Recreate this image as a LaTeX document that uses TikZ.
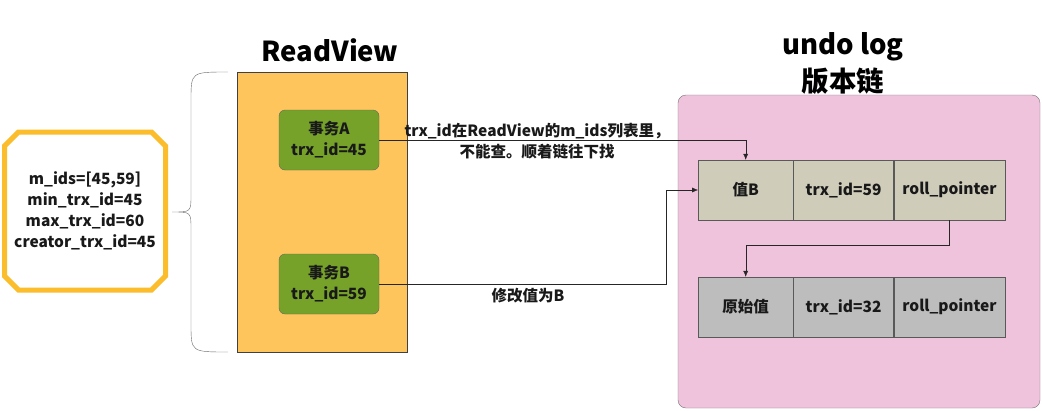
\documentclass[tikz,border=0pt]{standalone}
\usepackage{fontspec}
\setmainfont{Noto Sans CJK SC}
\usetikzlibrary{positioning,shapes.misc,arrows.meta}
\definecolor{viewfill}{HTML}{FEC55C}
\definecolor{txgreen}{HTML}{76A22A}
\definecolor{undofill}{HTML}{F0C3DD}
\definecolor{newrow}{HTML}{CFCCBA}
\definecolor{oldrow}{HTML}{BDBDBD}
\definecolor{octline}{HTML}{FBBD2B}

\begin{document}
\begin{tikzpicture}[x=1pt,y=-1pt,>={Latex[length=6pt,width=5pt]}]

\tikzset{txt/.style={font=\bfseries\fontsize{15.5}{21}\selectfont,text=black!90,align=center},
title/.style={font=\bfseries\fontsize{27.5}{37}\selectfont,align=center},
txnode/.style={txt,fill=txgreen,draw=black!60,rounded corners=6pt,minimum width=100pt,minimum height=60pt,inner sep=0pt},
cell/.style={txt,draw=black!65,minimum height=60pt,inner sep=0pt,anchor=west},
link/.style={->,draw=black!85,thin}}

\useasboundingbox (0,0) rectangle (1042,410);

% ReadView
\node[title] (rvtitle) at (330,50) {ReadView};
\node[fill=viewfill,draw=black!75,minimum width=170pt,minimum height=280pt,inner sep=0pt] (readview) at (322,212) {};
\node[txnode] (txA) at (329,140) {事务A\\trx\_id=45};
\node[txnode] (txB) at (329,284) {事务B\\trx\_id=59};

% ReadView fields
\node[txt,chamfered rectangle,chamfered rectangle xsep=7pt,chamfered rectangle ysep=7pt,draw=octline,line width=5pt,fill=white,minimum width=161pt,minimum height=158pt,inner sep=0pt] (fields) at (85,211) {m\_ids=[45,59]\\min\_trx\_id=45\\max\_trx\_id=60\\creator\_trx\_id=45};
\coordinate (brtop) at (228,72);
\coordinate (brtip) at (172,212);
\coordinate (brbot) at (228,352);
\draw[black!60] (brtop) .. controls (191,72) .. (191,100) -- (191,195) .. controls (191,212) .. (brtip)
  .. controls (191,212) .. (191,229) -- (191,324) .. controls (191,352) .. (brbot);

% undo log
\node[title] (undotitle) at (843,64) {undo log\\版本链};
\node[fill=undofill,draw=black!55,rounded corners=8pt,minimum width=362pt,minimum height=313pt,inner sep=0pt] (undo) at (859,251.5) {};

% version rows
\node[cell,fill=newrow,minimum width=95pt] (valB) at (698,190) {值B};
\node[cell,fill=newrow,minimum width=100pt] (idB) at (valB.east) {trx\_id=59};
\node[cell,fill=newrow,minimum width=111pt] (rpB) at (idB.east) {roll\_pointer};
\node[cell,fill=oldrow,minimum width=95pt] (orig) at (698,307) {原始值};
\node[cell,fill=oldrow,minimum width=100pt] (idO) at (orig.east) {trx\_id=32};
\node[cell,fill=oldrow,minimum width=111pt] (rpO) at (idO.east) {roll\_pointer};

% links
\draw[link] (txA.east) -| (valB.north);
\node[txt] (lblA) at (537,141) {trx\_id在ReadView的m\_ids列表里，\\不能查。顺着链往下找};
\coordinate (bend) at (666,284);
\draw[link] (txB.east) -- (bend) |- (valB.west);
\node[txt] (lblB) at (528,296) {修改值为B};
\draw[link] (rpB.south) -- ++(0,25) -| (orig.north);

\end{tikzpicture}
\end{document}
